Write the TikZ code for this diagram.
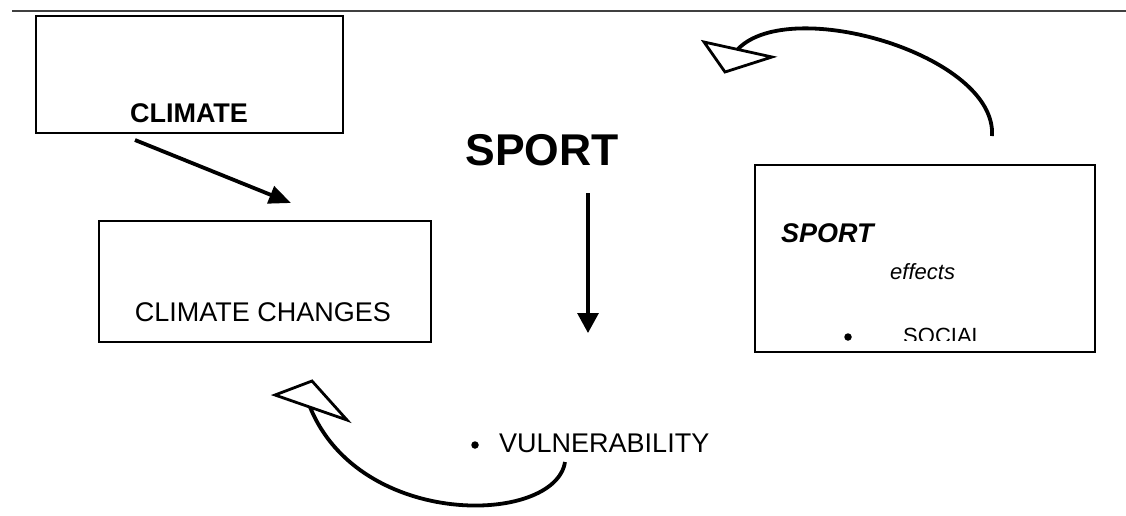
\documentclass[tikz,border=0pt]{standalone}
\usepackage{fontspec}
\setmainfont{Liberation Sans}
\usetikzlibrary{arrows.meta}
\begin{document}
\begin{tikzpicture}[x=1pt,y=-1pt,
  frame/.style={draw, line width=2.5pt, inner sep=0pt},
  txt/.style={inner sep=0pt, font=\fontsize{27}{30}\selectfont},
  small/.style={inner sep=0pt, font=\fontsize{22}{26}\selectfont},
  dot/.style={circle, fill, inner sep=0pt, minimum size=7.5pt},
  straight/.style={line width=3.8pt, -{Triangle[length=22pt,width=18pt]}},
  curve/.style={line width=3.8pt},
  openhead/.style={draw, fill=white, line width=2.8pt, line join=miter}]
\useasboundingbox (0,0) rectangle (1126,515);

% rule across the top
\coordinate (ruleL) at (12,11);
\coordinate (ruleR) at (1126,11);
\draw[line width=2pt, black!75] (ruleL) -- (ruleR);

% boxes
\node[frame, minimum width=307pt, minimum height=117pt] (climate) at (189.5,74.5) {};
\node[frame, minimum width=332pt, minimum height=121pt] (changes) at (265,281.5) {};
\node[frame, minimum width=340pt, minimum height=187pt] (effects) at (925,258.5) {};

% texts
\node[txt, anchor=base, font=\fontsize{27}{30}\selectfont\bfseries] (climateT) at (189,122) {CLIMATE};
\node[txt, anchor=base] (changesT) at (263,321) {CLIMATE CHANGES};
\node[inner sep=0pt, anchor=base, font=\fontsize{44.5}{50}\selectfont\bfseries] (sport) at (542,165) {SPORT};
\node[dot] (bulV) at (475,445) {};
\node[txt, anchor=base west] (vuln) at (499,452) {VULNERABILITY};

\node[txt, anchor=base west, font=\fontsize{27}{30}\selectfont\bfseries\itshape] (sportE) at (781,242) {SPORT};
\node[small, anchor=base west, font=\fontsize{22}{26}\selectfont\itshape] (eff) at (890,279) {effects};
\begin{scope}
  \clip (756,166) rectangle (1094,340);
  \node[dot] (bulS) at (848,337) {};
  \node[small, anchor=base west] (social) at (903,343.8) {SOCIAL};
\end{scope}

% straight arrows
\coordinate (a1s) at (135,140);
\coordinate (a1e) at (291,203);
\draw[straight] (a1s) -- (a1e);
\coordinate (a2s) at (588,193);
\coordinate (a2e) at (588,333);
\draw[line width=3.2pt, -{Triangle[length=20pt,width=21pt]}] (a2s) -- (a2e);

% curved arrow, top right
\coordinate (t0) at (992,136);
\coordinate (t1) at (738,49);
\draw[curve] (t0) .. controls (997,55) and (790,-5) .. (t1);
\coordinate (th1) at (704,42);
\coordinate (th2) at (725,72);
\coordinate (th3) at (772,57);
\draw[openhead] (th1) -- (th2) -- (th3) -- cycle;

% curved arrow, bottom
\coordinate (b0) at (565,462);
\coordinate (b1) at (310,407);
\draw[curve] (b0) .. controls (555,525) and (360,530) .. (b1);
\coordinate (bh1) at (275,395);
\coordinate (bh2) at (312,381);
\coordinate (bh3) at (347,420);
\draw[openhead] (bh1) -- (bh2) -- (bh3) -- cycle;
\end{tikzpicture}
\end{document}
